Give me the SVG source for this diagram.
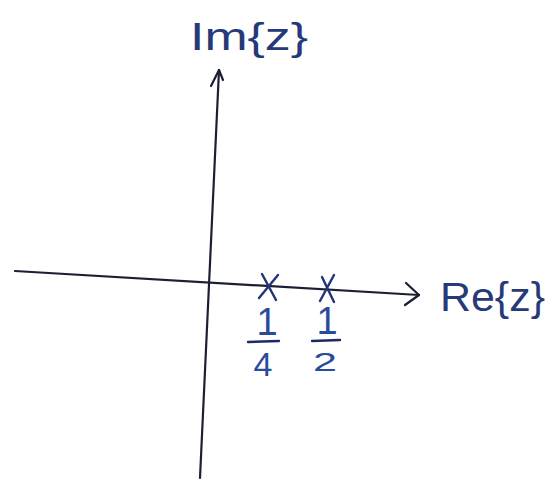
<svg xmlns="http://www.w3.org/2000/svg" width="556" height="481" viewBox="0 0 556 481">
<style>
.ax{stroke:#1c1f33;stroke-width:2.2;fill:none;stroke-linecap:round;stroke-linejoin:round}
.pole{stroke:#22337a;stroke-width:2.4;fill:none;stroke-linecap:round}
.bar{stroke:#1c2a66;stroke-width:2.4;fill:none;stroke-linecap:round}
.lbl{font-family:"Liberation Sans",Arial,sans-serif;fill:#263a7a}
.num{font-family:"Liberation Sans",Arial,sans-serif;fill:#2a4a9c;text-anchor:middle}
</style>
<rect width="556" height="481" fill="#ffffff"/>
<g id="connectors">
  <path class="ax" d="M15,271 L419,295"/>
  <path class="ax" d="M406,283 L419,295 L405,305"/>
  <path class="ax" d="M219,70 L200,478"/>
  <path class="ax" d="M211,86 L219,70 L223,80"/>
</g>
<g id="label-im">
  <text class="lbl" x="190" y="50" font-size="38" textLength="118" lengthAdjust="spacingAndGlyphs">Im{z}</text>
</g>
<g id="label-re">
  <text class="lbl" x="440" y="311" font-size="40" textLength="105" lengthAdjust="spacingAndGlyphs">Re{z}</text>
</g>
<g id="pole-quarter">
  <path class="pole" d="M262,274 L276,300 M278,275 L259,298"/>
  <text class="num" x="267" y="335" font-size="38">1</text>
  <path class="bar" d="M248,342 L279,341"/>
  <text class="num" x="263" y="376" font-size="34">4</text>
</g>
<g id="pole-half">
  <path class="pole" d="M322,277 L334,302 M334,275 L320,301"/>
  <text class="num" x="327" y="334" font-size="38">1</text>
  <path class="bar" d="M312,341 L340,340"/>
  <text class="num" x="325" y="371" font-size="26" textLength="24" lengthAdjust="spacingAndGlyphs">2</text>
</g>
</svg>
